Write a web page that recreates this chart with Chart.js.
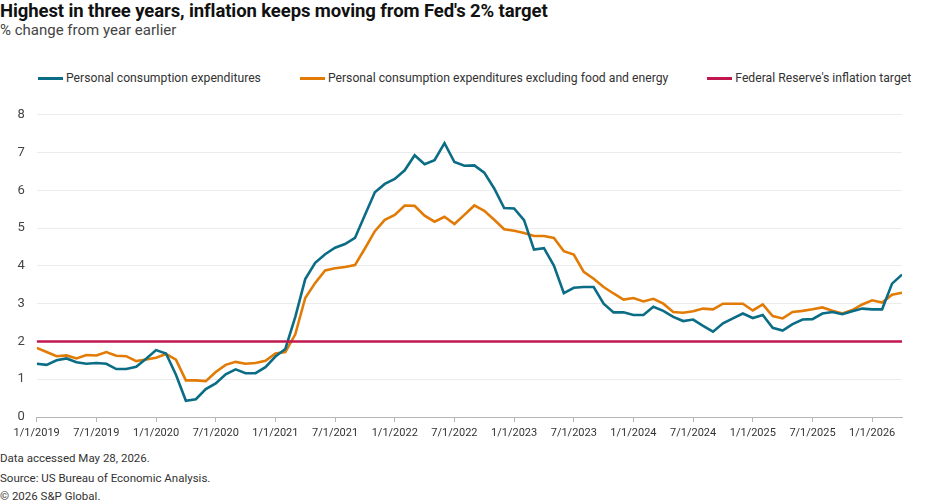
<!DOCTYPE html>
<html>
<head>
<meta charset="utf-8">
<script src="https://cdn.jsdelivr.net/npm/chart.js@4.4.1/dist/chart.umd.min.js"></script>
<style>
  html, body { margin: 0; padding: 0; background: #fff; }
  body { width: 949px; height: 504px; position: relative; overflow: hidden; font-family: Roboto, "Noto Sans", sans-serif; }
  #title { position: absolute; left: 0; top: 0px; font-size: 18.5px; font-weight: 700; color: #111; white-space: nowrap; letter-spacing: -0.1px; }
  #subtitle { position: absolute; left: 0; top: 21px; font-size: 15px; color: #444; white-space: nowrap; }
  #legend { position: absolute; left: 38px; top: 71px; display: flex; align-items: center; font-size: 12.2px; color: #333; white-space: nowrap; }
  .item { display: flex; align-items: center; margin-right: 39px; }
  .mark { width: 25px; height: 3px; margin-right: 3px; }
  #wrap { position: absolute; left: 0; top: 95px; width: 949px; height: 355px; }
  .foot { position: absolute; left: 0; font-size: 11.5px; color: #333; white-space: nowrap; }
</style>
</head>
<body>
<div id="title">Highest in three years, inflation keeps moving from Fed's 2% target</div>
<div id="subtitle">% change from year earlier</div>
<div id="legend"></div>
<div id="wrap"><canvas id="c" width="949" height="355"></canvas></div>
<div class="foot" style="top:451px">Data accessed May 28, 2026.</div>
<div class="foot" style="top:471px">Source: US Bureau of Economic Analysis.</div>
<div class="foot" style="top:489px">© 2026 S&amp;P Global.</div>
<script>
// ---- DATA ----
const seriesNames = [
  "Personal consumption expenditures",
  "Personal consumption expenditures excluding food and energy",
  "Federal Reserve's inflation target"
];
const tickLabels = ["1/1/2019","7/1/2019","1/1/2020","7/1/2020","1/1/2021","7/1/2021","1/1/2022","7/1/2022","1/1/2023","7/1/2023","1/1/2024","7/1/2024","1/1/2025","7/1/2025","1/1/2026"];
// Monthly, Jan 2019 - Apr 2026
const pce = [
  1.41,1.38,1.50,1.55,1.45,1.41,1.43,1.41,1.27,1.27,1.33,1.54,
  1.77,1.68,1.12,0.43,0.47,0.74,0.89,1.13,1.26,1.16,1.16,1.32,
  1.60,1.80,2.65,3.65,4.08,4.31,4.48,4.58,4.74,5.35,5.95,6.17,
  6.30,6.53,6.93,6.69,6.80,7.25,6.75,6.65,6.66,6.47,6.05,5.53,
  5.52,5.21,4.43,4.47,4.01,3.28,3.42,3.44,3.44,3.00,2.77,2.77,
  2.70,2.70,2.92,2.81,2.65,2.54,2.58,2.41,2.26,2.48,2.61,2.74,
  2.62,2.70,2.36,2.29,2.46,2.58,2.59,2.74,2.78,2.72,2.80,2.87,
  2.85,2.85,3.53,3.77
];
const pceCore = [
  1.83,1.72,1.61,1.63,1.55,1.64,1.63,1.72,1.62,1.61,1.48,1.52,
  1.57,1.67,1.52,0.97,0.97,0.95,1.19,1.38,1.46,1.41,1.43,1.49,
  1.68,1.72,2.19,3.15,3.55,3.88,3.94,3.97,4.02,4.46,4.92,5.22,
  5.35,5.60,5.59,5.33,5.17,5.30,5.11,5.35,5.60,5.46,5.22,4.97,
  4.93,4.87,4.79,4.79,4.74,4.39,4.30,3.84,3.66,3.44,3.27,3.11,
  3.15,3.06,3.13,3.00,2.78,2.76,2.80,2.87,2.85,3.00,3.00,3.00,
  2.82,2.98,2.67,2.61,2.78,2.81,2.85,2.90,2.81,2.74,2.83,2.98,
  3.09,3.03,3.24,3.29
];
const fedTarget = 2;
const yTicks = [0,1,2,3,4,5,6,7,8];

// categories: month start dates
const categories = [];
for (let k = 0; k < pce.length; k++) {
  const m = k % 12 + 1, y = 2019 + Math.floor(k / 12);
  categories.push(m + "/1/" + y);
}
const colors = ["#0b6c86", "#e27b05", "#c0174f"];

// legend
const lg = document.getElementById('legend');
seriesNames.forEach((n, i) => {
  const it = document.createElement('div'); it.className = 'item';
  const mk = document.createElement('div'); mk.className = 'mark'; mk.style.background = colors[i];
  const tx = document.createElement('span'); tx.textContent = n;
  it.appendChild(mk); it.appendChild(tx); lg.appendChild(it);
});

const toXY = arr => arr.map((v, i) => ({x: i, y: v}));
const last = pce.length - 1;

new Chart(document.getElementById('c'), {
  type: 'line',
  data: {
    datasets: [
      { label: seriesNames[0], data: toXY(pce), borderColor: colors[0], borderWidth: 2.6, pointRadius: 0, tension: 0, order: 1 },
      { label: seriesNames[1], data: toXY(pceCore), borderColor: colors[1], borderWidth: 2.6, pointRadius: 0, tension: 0, order: 2 },
      { label: seriesNames[2], data: [{x: 0, y: fedTarget}, {x: last, y: fedTarget}], borderColor: colors[2], borderWidth: 2.6, pointRadius: 0, tension: 0, order: 0 }
    ]
  },
  options: {
    responsive: false,
    animation: false,
    layout: { padding: { top: 17.5, right: 47, left: 0, bottom: 0 } },
    plugins: { legend: { display: false }, tooltip: { enabled: false } },
    scales: {
      x: {
        type: 'linear', min: 0, max: last,
        afterFit: s => { s.height = 33; },
        afterBuildTicks: s => { s.ticks = s.ticks.filter(t => t.value % 6 === 0 && t.value / 6 < tickLabels.length); },
        ticks: { stepSize: 6, autoSkip: false, maxRotation: 0, padding: 5, color: '#333',
                 font: { family: 'Roboto', size: 11 },
                 callback: v => tickLabels[v / 6] },
        grid: { drawOnChartArea: false, drawTicks: true, tickLength: 5, color: '#b5b5b5' },
        border: { display: true, color: '#b5b5b5', width: 1 }
      },
      y: {
        min: 0, max: 8,
        afterFit: s => { s.width = 36.7; },
        afterBuildTicks: s => { s.ticks = yTicks.map(v => ({value: v})); },
        ticks: { padding: 12, color: '#444', font: { family: 'Roboto', size: 13 } },
        grid: { color: '#ececec', drawTicks: false, lineWidth: 1 },
        border: { display: false }
      }
    }
  }
});
</script>
</body>
</html>
